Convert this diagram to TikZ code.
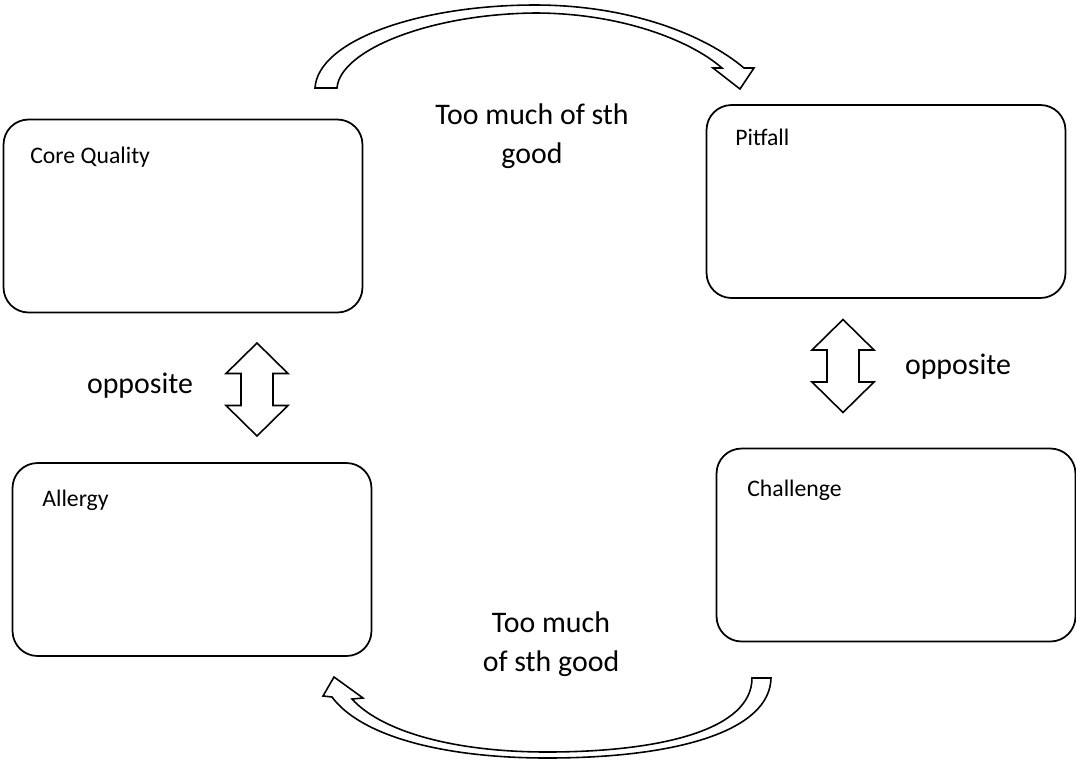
\documentclass[tikz,border=0pt]{standalone}
\usepackage{fontspec}
\setmainfont{Carlito}
\usetikzlibrary{positioning}

\begin{document}
\begin{tikzpicture}[x=0.02cm, y=-0.02cm,
                box/.style={draw, line width=1pt, rounded corners=0.5cm, minimum width=7.18cm, minimum height=3.86cm},
                lbl/.style={anchor=west, inner sep=0pt, font=\fontsize{13.5}{16}\selectfont},
                note/.style={inner sep=0pt, align=center, font=\fontsize{17}{22}\selectfont},
                dblarr/.style={draw, line width=0.9pt, line join=miter},
                curvearr/.style={draw, line width=0.9pt, line join=miter, fill=white}]
                \useasboundingbox (0,0) rectangle (1076,762);

                % Boxes
                \node[box] (core) at (183,216) {};
                \node[box] (pit) at (886,201.5) {};
                \node[box] (all) at (192,559.5) {};
                \node[box] (chal) at (896,545) {};
                \node[lbl] (corelbl) at (30,157) {Core Quality};
                \node[lbl] (pitlbl) at (735,137) {Pitfall};
                \node[lbl] (alllbl) at (42,500) {Allergy};
                \node[lbl] (challbl) at (747,490) {Challenge};

                % Opposites
                \foreach \cx/\cy in {257/389.5, 843/366}
                    \draw[dblarr, shift={(\cx,\cy)}] (0,-46.5) -- (31,-16) -- (16,-16) -- (16,16) -- (31,16)
                        -- (0,46.5) -- (-31,16) -- (-16,16) -- (-16,-16) -- (-31,-16) -- cycle;
                \node[note] (leftopp) at (140,386) {opposite};
                \node[note] (rightopp) at (958,367) {opposite};

                % Too much of sth good
                \node[note] (toptxt) at (532,136) {Too much of sth\\good};
                \node[note] (bottxt) at (551,644) {Too much\\of sth good};

                \draw[curvearr] (315,88) .. controls (318,40) and (420,5) .. (535,5)
                        .. controls (630,5) and (705,35) .. (744,68) -- (754,68) -- (740,89) -- (713,68) -- (722,68)
                        .. controls (690,40) and (620,13) .. (535,13)
                        .. controls (430,14) and (340,50) .. (337,88) -- cycle;
                \draw[curvearr] (771,678) .. controls (770,730) and (680,758) .. (547,758)
                        .. controls (440,758) and (360,735) .. (332,697) -- (323,696) -- (334,677) -- (363,698) -- (352,699)
                        .. controls (380,730) and (450,752) .. (547,752)
                        .. controls (660,752) and (752,730) .. (752,678) -- cycle;
            \end{tikzpicture}
\end{document}
